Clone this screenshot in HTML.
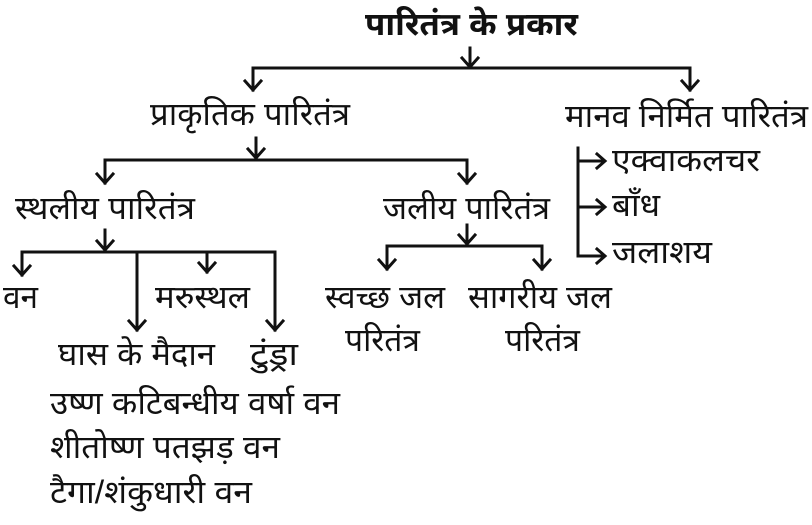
<!DOCTYPE html>
<html><head><meta charset="utf-8"><style>
body{margin:0;background:#fff}
svg text{font-family:"Liberation Sans","Noto Sans Devanagari","Lohit Devanagari","FreeSans",sans-serif;font-size:32px;fill:#111}
</style></head><body>
<svg width="812" height="520" viewBox="0 0 812 520" xmlns="http://www.w3.org/2000/svg">
<g stroke="#111" stroke-width="3" fill="none" stroke-linecap="square">
<path d="M470 48V66M462 58l8 9 8-9"/>
<path d="M253 68H690M253 68V90M245 81l8 9 8-9M690 68V90M682 81l8 9 8-9"/>
<path d="M256 138V158M248 149l8 9 8-9"/>
<path d="M105 160H467M105 160V183M97 174l8 9 8-9M467 160V183M459 174l8 9 8-9"/>
<path d="M105 230V250M97 241l8 9 8-9"/>
<path d="M22 252H275M22 252V275M14 266l8 9 8-9M137 252V330M129 321l8 9 8-9M207 252V272M199 263l8 9 8-9M275 252V330M267 321l8 9 8-9"/>
<path d="M467 225V244M459 235l8 9 8-9"/>
<path d="M387 246H542M387 246V269M379 260l8 9 8-9M542 246V269M534 260l8 9 8-9"/>
<path d="M578 148V256H604M578 161H604M578 207H604M597 154l8 7-8 7M597 200l8 7-8 7M597 249l8 7-8 7"/>
</g>
<text x="365" y="35" font-weight="bold" textLength="213" lengthAdjust="spacingAndGlyphs">पारितंत्र के प्रकार</text>
<text x="150" y="125" textLength="200" lengthAdjust="spacingAndGlyphs">प्राकृतिक पारितंत्र</text>
<text x="565" y="127" textLength="243" lengthAdjust="spacingAndGlyphs">मानव निर्मित पारितंत्र</text>
<text x="612" y="171" textLength="148" lengthAdjust="spacingAndGlyphs">एक्वाकलचर</text>
<text x="612" y="216" textLength="48" lengthAdjust="spacingAndGlyphs">बाँध</text>
<text x="612" y="263" textLength="100" lengthAdjust="spacingAndGlyphs">जलाशय</text>
<text x="15" y="219" textLength="180" lengthAdjust="spacingAndGlyphs">स्थलीय पारितंत्र</text>
<text x="383" y="219" textLength="167" lengthAdjust="spacingAndGlyphs">जलीय पारितंत्र</text>
<text x="3" y="308" textLength="35" lengthAdjust="spacingAndGlyphs">वन</text>
<text x="155" y="308" textLength="95" lengthAdjust="spacingAndGlyphs">मरुस्थल</text>
<text x="58" y="365" textLength="157" lengthAdjust="spacingAndGlyphs">घास के मैदान</text>
<text x="250" y="365" textLength="48" lengthAdjust="spacingAndGlyphs">टुंड्रा</text>
<text x="50" y="414" textLength="290" lengthAdjust="spacingAndGlyphs">उष्ण कटिबन्धीय वर्षा वन</text>
<text x="50" y="458" textLength="230" lengthAdjust="spacingAndGlyphs">शीतोष्ण पतझड़ वन</text>
<text x="50" y="503" textLength="202" lengthAdjust="spacingAndGlyphs">टैगा/शंकुधारी वन</text>
<text x="325" y="308" textLength="120" lengthAdjust="spacingAndGlyphs">स्वच्छ जल</text>
<text x="345" y="351" textLength="75" lengthAdjust="spacingAndGlyphs">परितंत्र</text>
<text x="468" y="308" textLength="144" lengthAdjust="spacingAndGlyphs">सागरीय जल</text>
<text x="505" y="351" textLength="75" lengthAdjust="spacingAndGlyphs">परितंत्र</text>
</svg>
</body></html>
